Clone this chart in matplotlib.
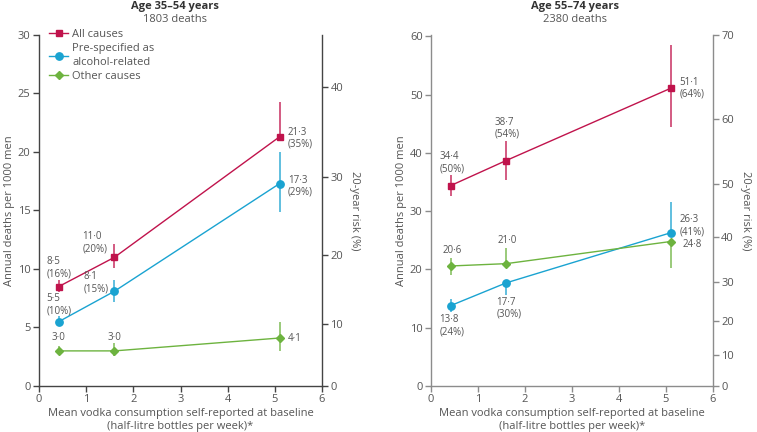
import numpy as np
import matplotlib.pyplot as plt

plt.rcParams['font.family'] = ['Open Sans', 'DejaVu Sans']

# mean vodka consumption per group (half-litre bottles per week)
doses = [0.42, 1.6, 5.1]

# Age 35-54 years
young_all = [8.5, 11.0, 21.3]
young_all_lo = [8.0, 10.1, 21.3]
young_all_hi = [9.1, 12.1, 24.3]
young_all_pct = [16, 20, 35]
young_alc = [5.5, 8.1, 17.3]
young_alc_lo = [5.1, 7.2, 14.9]
young_alc_hi = [6.0, 9.1, 20.0]
young_alc_pct = [10, 15, 29]
young_oth = [3.0, 3.0, 4.1]
young_oth_lo = [2.7, 2.6, 3.0]
young_oth_hi = [3.4, 3.7, 5.5]

# Age 55-74 years
old_all = [34.4, 38.7, 51.1]
old_all_lo = [32.6, 35.3, 44.4]
old_all_hi = [36.2, 42.0, 58.6]
old_all_pct = [50, 54, 64]
old_alc = [13.8, 17.7, 26.3]
old_alc_lo = [12.7, 15.7, 26.3]
old_alc_hi = [15.0, 17.7, 31.6]
old_alc_pct = [24, 30, 41]
old_oth = [20.6, 21.0, 24.8]
old_oth_lo = [19.1, 21.0, 20.3]
old_oth_hi = [22.0, 23.7, 24.8]

RED = '#c0134c'
CYAN = '#1aa3d1'
GREEN = '#6db33f'
TXT = '#555555'
FS = 8


def fmt(v):
    return f"{v:.1f}".replace('.', '\u00b7')


def to_risk(rate):
    return 100 * (1 - np.exp(-np.asarray(rate, dtype=float) / 50))


def to_rate(risk):
    r = np.clip(np.asarray(risk, dtype=float), -50, 99.9)
    return -50 * np.log(1 - r / 100)


def draw_series(ax, vals, lo, hi, color, marker, ms, label):
    yerr = [np.array(vals) - np.array(lo), np.array(hi) - np.array(vals)]
    ax.errorbar(doses, vals, yerr=yerr, fmt='none', ecolor=color, elinewidth=1.3,
                alpha=0.75, capsize=0, zorder=2)
    ax.plot(doses, vals, color=color, lw=1.0, marker=marker, ms=ms,
            label=label, zorder=3)


def put_labels(ax, vals, texts, places):
    for x, v, t, (dx, dy, ha, va) in zip(doses, vals, texts, places):
        ax.annotate(t, (x, v), xytext=(dx, dy), textcoords='offset points',
                    ha=ha, va=va, fontsize=7, color=TXT, multialignment='left',
                    linespacing=1.15)


def setup(ax, ymax, risk_ticks, spine_col, title, sub, xc):
    ax.set_xlim(0, 6)
    ax.set_ylim(0, ymax)
    ax.set_xticks(range(7))
    for s in ['top', 'right']:
        ax.spines[s].set_visible(False)
    for s in ['left', 'bottom']:
        ax.spines[s].set_color(spine_col)
        ax.spines[s].set_linewidth(1.0)
    ax.tick_params(colors=spine_col, labelcolor=TXT, labelsize=FS, length=4, width=1, pad=2)
    ax.set_ylabel('Annual deaths per 1000 men', color=TXT, fontsize=FS, labelpad=2)
    ax.set_xlabel('Mean vodka consumption self-reported at baseline\n(half-litre bottles per week)*',
                  color=TXT, fontsize=FS, labelpad=2, linespacing=1.2)
    sec = ax.secondary_yaxis('right', functions=(to_risk, to_rate))
    sec.set_yticks(risk_ticks)
    sec.spines['right'].set_color(spine_col)
    sec.spines['right'].set_linewidth(1.0)
    sec.tick_params(colors=spine_col, labelcolor=TXT, labelsize=FS, length=4, width=1, pad=2)
    sec.set_ylabel('20-year risk (%)', color=TXT, fontsize=FS, rotation=270, labelpad=12)
    fig.text(xc / 757, 1 - 6 / 432, title, ha='center', va='center',
             fontsize=FS, fontweight='bold', color='#333333')
    fig.text(xc / 757, 1 - 19 / 432, sub, ha='center', va='center',
             fontsize=FS, color=TXT)


fig = plt.figure(figsize=(7.57, 4.32), dpi=100)
ax1 = fig.add_axes([0.0515, 0.1065, 0.3739, 0.8125])
ax2 = fig.add_axes([0.5693, 0.1065, 0.3725, 0.8125])

setup(ax1, 30, [0, 10, 20, 30, 40], '#444444', 'Age 35\u201354 years', '1803 deaths', 175)
setup(ax2, 60.25, [0, 10, 20, 30, 40, 50, 60, 70], '#8c8c8c', 'Age 55\u201374 years', '2380 deaths', 575)
ax2.set_yticks([0, 10, 20, 30, 40, 50, 60])

# left panel
draw_series(ax1, young_all, young_all_lo, young_all_hi, RED, 's', 4.8, 'All causes')
draw_series(ax1, young_alc, young_alc_lo, young_alc_hi, CYAN, 'o', 5.3, 'Pre-specified as\nalcohol-related')
draw_series(ax1, young_oth, young_oth_lo, young_oth_hi, GREEN, 'D', 4, 'Other causes')

put_labels(ax1, young_all, [f"{fmt(v)}\n({p}%)" for v, p in zip(young_all, young_all_pct)],
           [(0, 5, 'center', 'bottom'), (-5, 2, 'right', 'bottom'), (6, -1, 'left', 'center')])
put_labels(ax1, young_alc, [f"{fmt(v)}\n({p}%)" for v, p in zip(young_alc, young_alc_pct)],
           [(0, 4, 'center', 'bottom'), (-4, 6, 'right', 'center'), (6, -2, 'left', 'center')])
put_labels(ax1, young_oth, [fmt(v) for v in young_oth],
           [(0, 6, 'center', 'bottom'), (0, 6, 'center', 'bottom'), (6, 0, 'left', 'center')])

leg = ax1.legend(loc='upper left', bbox_to_anchor=(0.02, 1.03), frameon=False, fontsize=FS,
                 handlelength=1.7, handletextpad=0.4, labelspacing=0.3, borderaxespad=0)
for t in leg.get_texts():
    t.set_color(TXT)
    t.set_linespacing(1.3)

# right panel
draw_series(ax2, old_all, old_all_lo, old_all_hi, RED, 's', 4.8, 'All causes')
draw_series(ax2, old_alc, old_alc_lo, old_alc_hi, CYAN, 'o', 5.3, 'Pre-specified as\nalcohol-related')
draw_series(ax2, old_oth, old_oth_lo, old_oth_hi, GREEN, 'D', 4, 'Other causes')

put_labels(ax2, old_all, [f"{fmt(v)}\n({p}%)" for v, p in zip(old_all, old_all_pct)],
           [(1, 8, 'center', 'bottom'), (1, 15, 'center', 'bottom'), (6.5, 0, 'left', 'center')])
put_labels(ax2, old_alc, [f"{fmt(v)}\n({p}%)" for v, p in zip(old_alc, old_alc_pct)],
           [(1, -6, 'center', 'top'), (2, -10, 'center', 'top'), (6.5, 5, 'left', 'center')])
put_labels(ax2, old_oth, [fmt(v) for v in old_oth],
           [(1, 7, 'center', 'bottom'), (1, 13, 'center', 'bottom'), (8.5, -2, 'left', 'center')])

fig.savefig('out.png', dpi=100)
